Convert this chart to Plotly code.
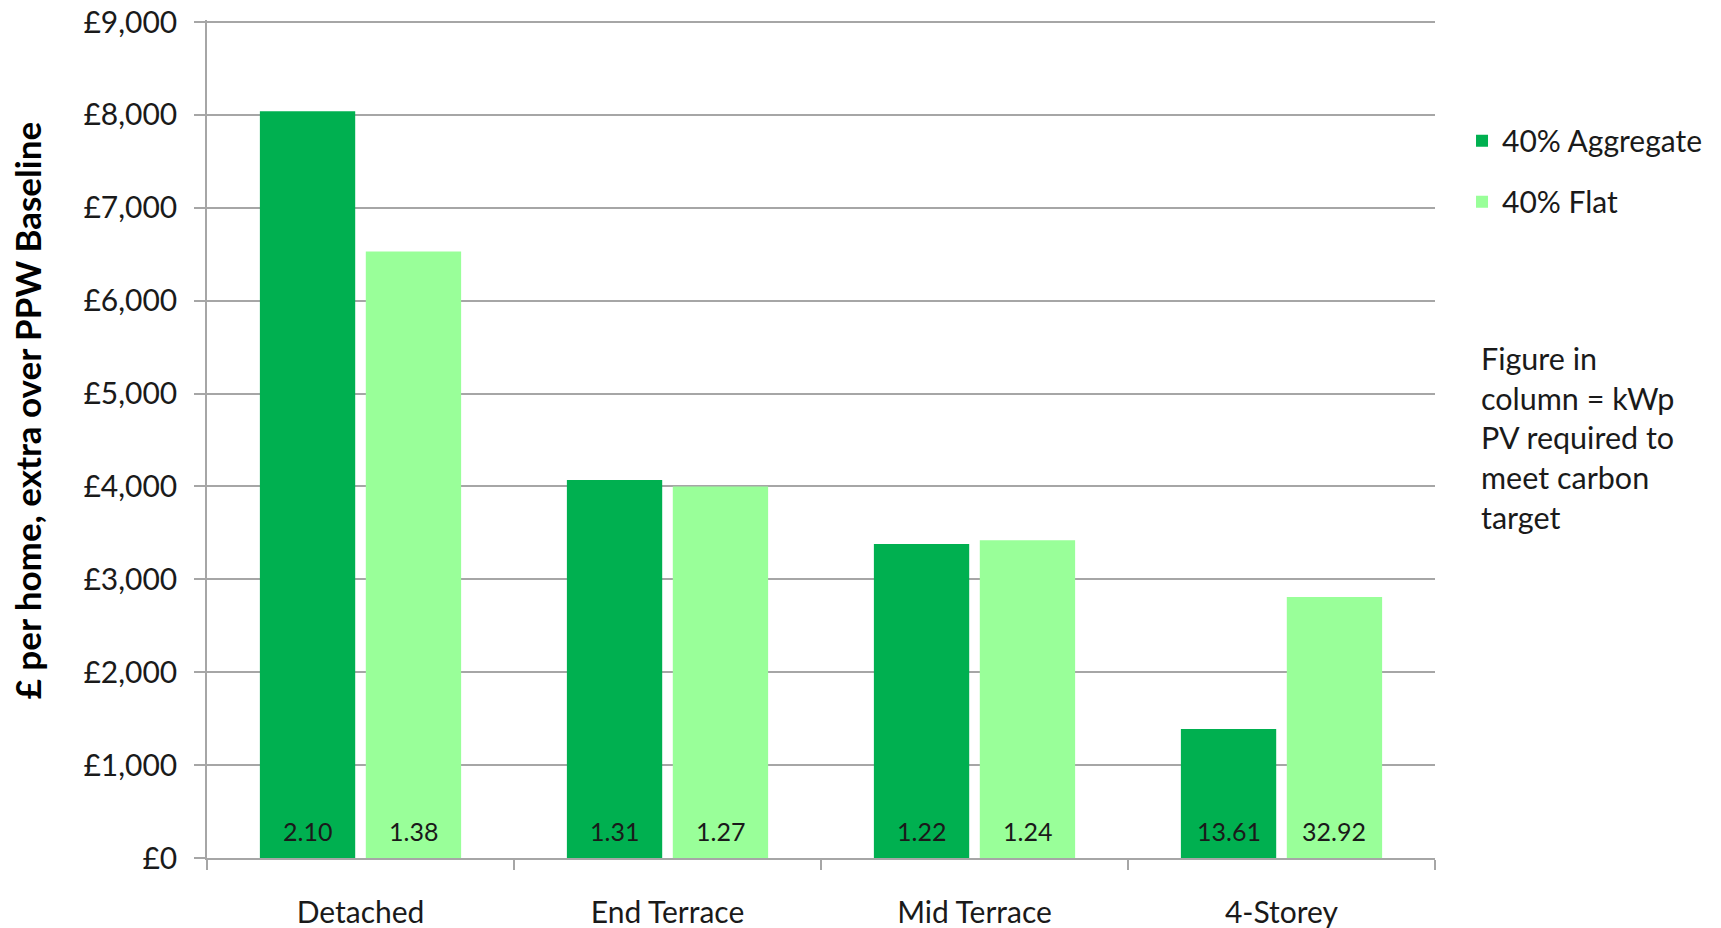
import plotly.graph_objects as go

categories = ["Detached", "End Terrace", "Mid Terrace", "4-Storey"]
aggregate_cost = [8040, 4070, 3380, 1390]
flat_cost = [6530, 4000, 3420, 2810]
aggregate_kwp = ["2.10", "1.31", "1.22", "13.61"]
flat_kwp = ["1.38", "1.27", "1.24", "32.92"]
y_ticks = [0, 1000, 2000, 3000, 4000, 5000, 6000, 7000, 8000, 9000]
y_tick_labels = ["£0", "£1,000", "£2,000", "£3,000", "£4,000", "£5,000",
                 "£6,000", "£7,000", "£8,000", "£9,000"]

FONT = "Lato, Calibri, Carlito, sans-serif"
TXT = "#1a1a1a"
GRID = "#a6a6a6"

W, H = 1721, 928
ML, MT, MR, MB = 207, 20, 286, 70
BARGAP = 0.31
plot_w = W - ML - MR
plot_h = H - MT - MB
bar_offset = plot_w / len(categories) * (1 - BARGAP) / 4
# extend the range by 2px so the £9,000 gridline is not dropped at the edge
y_top = y_ticks[-1] * plot_h / (plot_h - 2)

fig = go.Figure()
fig.add_trace(go.Bar(
    x=categories, y=aggregate_cost, name="40% Aggregate",
    marker=dict(color="#00B050", line=dict(width=0)),
    legendgroup="a",
))
fig.add_trace(go.Bar(
    x=categories, y=flat_cost, name="40% Flat",
    marker=dict(color="#99FF99", line=dict(width=0)),
    legendgroup="b",
))

# kWp figures inside each column near its base
for cat, a_lbl, f_lbl in zip(categories, aggregate_kwp, flat_kwp):
    for lbl, shift in ((a_lbl, -bar_offset), (f_lbl, bar_offset)):
        fig.add_annotation(
            x=cat, y=0, xref="x", yref="y", xshift=shift, yshift=27,
            yanchor="middle", xanchor="center", showarrow=False, text=lbl,
            font=dict(family=FONT, size=25, color=TXT),
        )

fig.update_layout(
    width=W, height=H,
    margin=dict(l=ML, r=MR, t=MT, b=MB, autoexpand=False),
    paper_bgcolor="white", plot_bgcolor="white",
    barmode="group", bargap=BARGAP, bargroupgap=0.1,
    font=dict(family=FONT, size=30, color=TXT),
    legend=dict(
        x=1.022, xanchor="left", y=0.887, yanchor="top",
        font=dict(family=FONT, size=30, color=TXT),
        tracegroupgap=19, itemwidth=30, bgcolor="rgba(0,0,0,0)",
    ),
    showlegend=True,
)

fig.update_yaxes(
    range=[0, y_top], tickvals=y_ticks, ticktext=y_tick_labels,
    showgrid=True, gridcolor=GRID, gridwidth=1.5,
    showline=True, linecolor=GRID, linewidth=1.5,
    ticks="outside", ticklen=11, tickcolor=GRID, tickwidth=1.5,
    ticklabelstandoff=11,
    tickfont=dict(family=FONT, size=30, color=TXT),
    zeroline=False,
)
fig.update_xaxes(
    showline=True, linecolor=GRID, linewidth=1.5,
    ticks="outside", ticklen=10, tickcolor=GRID, tickwidth=1.5,
    tickson="boundaries", ticklabelstandoff=27,
    tickfont=dict(family=FONT, size=30, color=TXT),
)

# y-axis title (placed as Excel does, slightly above centre)
fig.add_annotation(
    xref="paper", yref="paper", x=-0.1466, y=0.534,
    xanchor="center", yanchor="middle", textangle=-90, showarrow=False,
    text="<b>£ per home, extra over PPW Baseline</b>",
    font=dict(family=FONT, size=35, color="#000000"),
)

fig.add_annotation(
    xref="paper", yref="paper", x=1.036, y=0.62, xanchor="left", yanchor="top",
    align="left", showarrow=False,
    text="Figure in<br>column = kWp<br>PV required to<br>meet carbon<br>target",
    font=dict(family=FONT, size=30.5, color=TXT),
)

fig.write_html(
    "out.html",
    config={"displayModeBar": False},
    post_script="document.body.style.margin='0';document.body.style.overflow='hidden';",
)
